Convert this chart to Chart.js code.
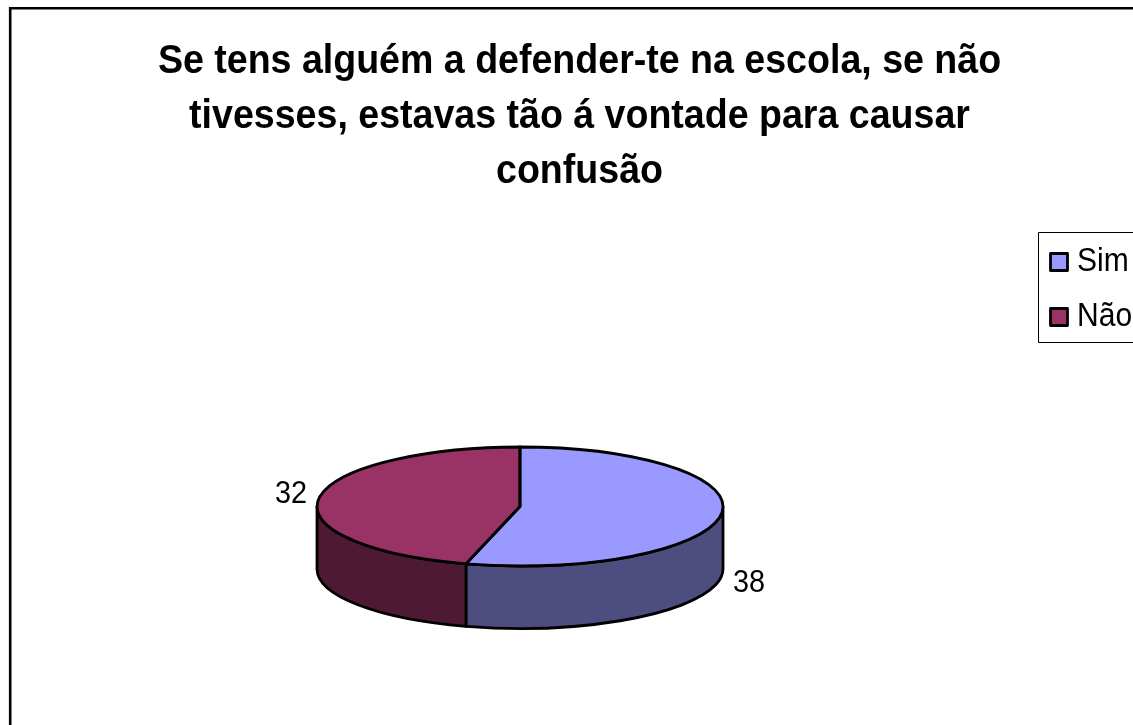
<!DOCTYPE html>
<html>
<head>
<meta charset="utf-8">
<title>Se tens alguém a defender-te na escola</title>
<script src="https://cdn.jsdelivr.net/npm/chart.js@4"></script>
<style>
  html, body { margin: 0; padding: 0; background: #fff; overflow: hidden; }
  canvas { display: block; }
</style>
</head>
<body>
<canvas id="pieChart" width="1133" height="725"></canvas>
<script>
const categories = ['Sim', 'Não'];
const values = [38, 32];
const topColors = ['#9999FF', '#993366'];
const sideColors = ['#4D4D80', '#4D1933'];
const titleLines = [
  'Se tens alguém a defender-te na escola, se não',
  'tivesses, estavas tão á vontade para causar',
  'confusão'
];

const fontFamily = '"Liberation Sans", Arial, sans-serif';
const squash = 59.5 / 203;  // tilt of the pie
const depth = 62.5;

const getArcs = (chart) => chart.getDatasetMeta(0).data;

// the reference text is a bit narrower than the font, so squeeze it sideways
const drawText = (ctx, text, x, y, font, align, xScale) => {
  ctx.save();
  ctx.fillStyle = '#000';
  ctx.font = font;
  ctx.textAlign = align;
  ctx.textBaseline = 'alphabetic';
  ctx.translate(x, y);
  ctx.scale(xScale, 1);
  ctx.fillText(text, 0, 0);
  ctx.restore();
};

const pie3d = {
  id: 'pie3d',
  beforeDraw(chart) {
    const ctx = chart.ctx;
    ctx.save();
    ctx.strokeStyle = '#000';
    ctx.lineWidth = 2.6;
    ctx.beginPath();
    ctx.moveTo(10.2, 725);
    ctx.lineTo(10.2, 8.2);
    ctx.lineTo(1133, 8.2);
    ctx.stroke();
    ctx.restore();

    titleLines.forEach((line, i) => {
      drawText(ctx, line, 579.5, 72.5 + i * 55, 'bold 41px ' + fontFamily, 'center', 0.916);
    });
  },
  beforeDatasetsDraw(chart) {
    const ctx = chart.ctx;
    ctx.save();
    ctx.lineWidth = 2.8;
    ctx.strokeStyle = '#000';
    ctx.lineJoin = 'round';
    getArcs(chart).forEach((arc, i) => {
      // only the front half of the rim is visible
      const a0 = Math.max(arc.startAngle, 0);
      const a1 = Math.min(arc.endAngle, Math.PI);
      if (a1 <= a0) return;
      const rx = arc.outerRadius;
      const ry = rx * squash;
      ctx.beginPath();
      ctx.ellipse(arc.x, arc.y, rx, ry, 0, a0, a1);
      ctx.ellipse(arc.x, arc.y + depth, rx, ry, 0, a1, a0, true);
      ctx.closePath();
      ctx.fillStyle = sideColors[i];
      ctx.fill();
      ctx.stroke();
    });
    ctx.restore();

    const first = getArcs(chart)[0];
    ctx.save();
    ctx.translate(first.x, first.y);
    ctx.scale(1, squash);
    ctx.translate(-first.x, -first.y);
  },
  afterDatasetsDraw(chart) {
    const ctx = chart.ctx;
    ctx.restore();

    ctx.save();
    ctx.lineWidth = 2.8;
    ctx.strokeStyle = '#000';
    ctx.lineJoin = 'round';
    getArcs(chart).forEach((arc) => {
      const rx = arc.outerRadius;
      ctx.beginPath();
      ctx.moveTo(arc.x, arc.y);
      ctx.ellipse(arc.x, arc.y, rx, rx * squash, 0, arc.startAngle, arc.endAngle);
      ctx.closePath();
      ctx.stroke();
    });

    // value labels outside the slices
    getArcs(chart).forEach((arc, i) => {
      const mid = (arc.startAngle + arc.endAngle) / 2;
      const rx = arc.outerRadius;
      const lx = arc.x + (rx + 28) * Math.cos(mid);
      const sy = rx * squash * Math.sin(mid);
      const ly = arc.y + sy + (sy > 0 ? depth + 15 : 4);
      drawText(ctx, String(values[i]), lx, ly, '32px ' + fontFamily, 'center', 0.9);
    });

    // legend
    ctx.strokeStyle = '#000';
    ctx.lineWidth = 1;
    ctx.strokeRect(1038.5, 232.5, 110, 110);
    categories.forEach((name, i) => {
      const y = 262 + i * 55;
      ctx.fillStyle = topColors[i];
      ctx.lineWidth = 2.8;
      ctx.fillRect(1050.5, y - 8.5, 17, 17);
      ctx.strokeRect(1050.5, y - 8.5, 17, 17);
      drawText(ctx, name, 1077, y + 9.3, '33px ' + fontFamily, 'left', 0.91);
    });
    ctx.restore();
  }
};

const ctx = document.getElementById('pieChart').getContext('2d');

new Chart(ctx, {
  type: 'pie',
  data: {
    labels: categories,
    datasets: [{
      data: values,
      backgroundColor: topColors,
      borderWidth: 0,
      radius: 203
    }]
  },
  plugins: [pie3d],
  options: {
    responsive: false,
    animation: false,
    layout: {
      padding: { left: 0, right: 93, top: 303.5, bottom: 15.5 }
    },
    plugins: {
      legend: { display: false },
      tooltip: { enabled: false },
      title: { display: false }
    }
  }
});
</script>
</body>
</html>
